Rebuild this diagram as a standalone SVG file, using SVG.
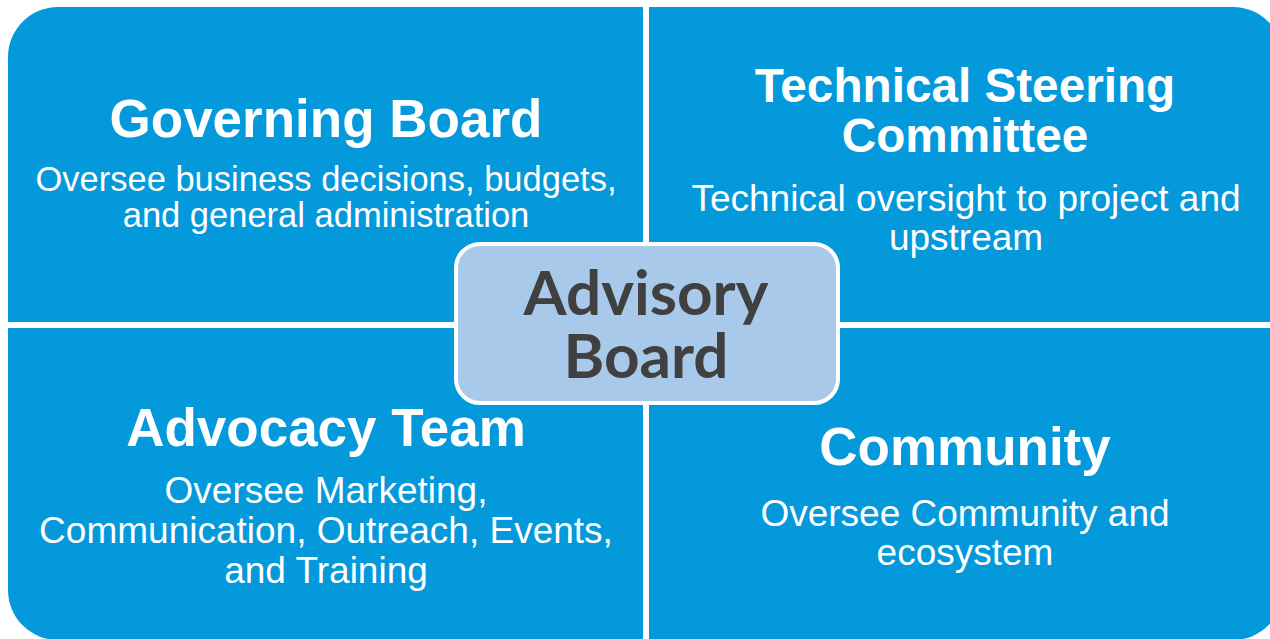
<svg xmlns="http://www.w3.org/2000/svg" width="1270" height="639" viewBox="0 0 1270 639">
<style>
.q{fill:#0399DB}
.t{font-family:"Liberation Sans",Arial,sans-serif;font-weight:bold;fill:#fff;text-anchor:middle}
.s{font-family:"Liberation Sans",Arial,sans-serif;fill:#fff;text-anchor:middle}
.c{font-family:Lato,"Liberation Sans",sans-serif;font-weight:bold;fill:#404040;text-anchor:middle}
</style>
<rect width="1270" height="639" fill="#fff"/>
<g id="governing-board">
<path class="q" d="M8,57 A50,50 0 0 1 58,7 L643,7 L643,322 L8,322 Z"/>
<text class="t" x="326" y="137" font-size="53">Governing Board</text>
<text class="s" x="326" y="191" font-size="34.5">Oversee business decisions, budgets,</text>
<text class="s" x="326" y="227" font-size="34.5">and general administration</text>
</g>
<g id="technical-steering-committee">
<path class="q" d="M649,7 L1233,7 A50,50 0 0 1 1283,57 L1283,322 L649,322 Z"/>
<text class="t" x="965" y="102" font-size="47.7">Technical Steering</text>
<text class="t" x="965" y="152" font-size="47.7">Committee</text>
<text class="s" x="966" y="211" font-size="37">Technical oversight to project and</text>
<text class="s" x="966" y="250" font-size="37">upstream</text>
</g>
<g id="advocacy-team">
<path class="q" d="M8,328 L643,328 L643,640 L58,640 A50,50 0 0 1 8,590 Z"/>
<text class="t" x="326" y="446" font-size="53">Advocacy Team</text>
<text class="s" x="326" y="503" font-size="37">Oversee Marketing,</text>
<text class="s" x="326" y="543" font-size="37">Communication, Outreach, Events,</text>
<text class="s" x="326" y="583" font-size="37">and Training</text>
</g>
<g id="community">
<path class="q" d="M649,328 L1283,328 L1283,590 A50,50 0 0 1 1233,640 L649,640 Z"/>
<text class="t" x="965" y="465" font-size="53">Community</text>
<text class="s" x="965" y="526" font-size="37">Oversee Community and</text>
<text class="s" x="965" y="565" font-size="37">ecosystem</text>
</g>
<g id="advisory-board">
<rect x="456" y="244" width="382" height="159" rx="24" fill="#A8C9E9" stroke="#fff" stroke-width="4"/>
<text class="c" x="646" y="315" font-size="62">Advisory</text>
<text class="c" x="646" y="378" font-size="62">Board</text>
</g>
<g id="connectors"></g>
</svg>
